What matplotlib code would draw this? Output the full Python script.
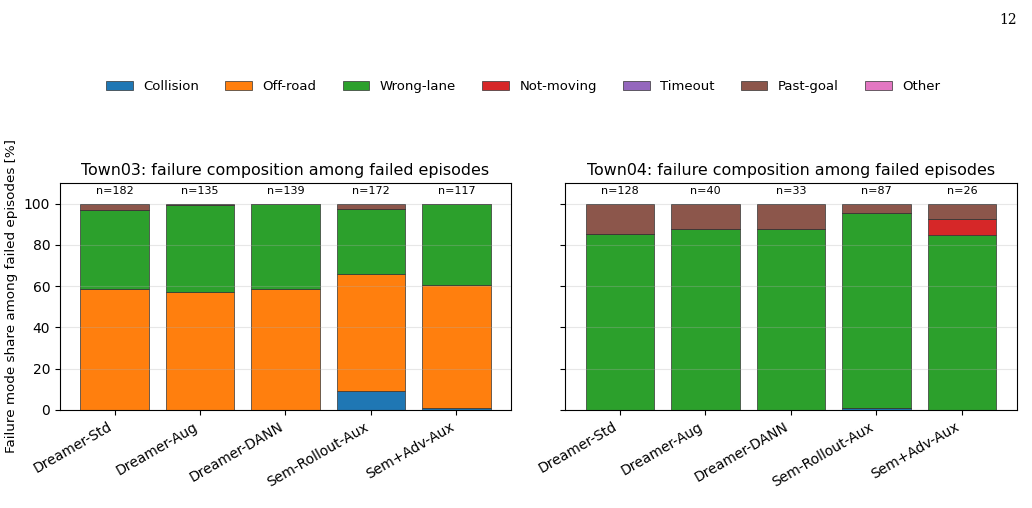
import numpy as np
import matplotlib.pyplot as plt

methods = ['Dreamer-Std', 'Dreamer-Aug', 'Dreamer-DANN', 'Sem-Rollout-Aux', 'Sem+Adv-Aux']
modes = ['Collision', 'Off-road', 'Wrong-lane', 'Not-moving', 'Timeout', 'Past-goal', 'Other']
colors = ['tab:blue', 'tab:orange', 'tab:green', 'tab:red', 'tab:purple', 'tab:brown', 'tab:pink']

# failure shares [%] per mode, one list per method
town03 = {
    'Collision':  [0.0, 0.0, 0.0, 9.3, 0.9],
    'Off-road':   [58.8, 57.0, 58.8, 56.7, 59.8],
    'Wrong-lane': [37.9, 42.2, 41.2, 31.4, 39.3],
    'Not-moving': [0.0, 0.0, 0.0, 0.0, 0.0],
    'Timeout':    [0.0, 0.0, 0.0, 0.0, 0.0],
    'Past-goal':  [3.3, 0.8, 0.0, 2.6, 0.0],
    'Other':      [0.0, 0.0, 0.0, 0.0, 0.0],
}
town03_n = [182, 135, 139, 172, 117]

town04 = {
    'Collision':  [0.0, 0.0, 0.0, 1.1, 0.0],
    'Off-road':   [0.0, 0.0, 0.0, 0.0, 0.0],
    'Wrong-lane': [85.2, 87.5, 87.9, 94.3, 84.6],
    'Not-moving': [0.0, 0.0, 0.0, 0.0, 7.7],
    'Timeout':    [0.0, 0.0, 0.0, 0.0, 0.0],
    'Past-goal':  [14.8, 12.5, 12.1, 4.6, 7.7],
    'Other':      [0.0, 0.0, 0.0, 0.0, 0.0],
}
town04_n = [128, 40, 33, 87, 26]

fig, axes = plt.subplots(1, 2, figsize=(10.32, 5.08), dpi=100, sharey=True)
fig.subplots_adjust(left=0.058, right=0.985, top=0.64, bottom=0.193, wspace=0.12)

# stacked bars per town
def draw(ax, data, counts, town):
    x = np.arange(len(methods))
    bottom = np.zeros(len(methods))
    for mode, c in zip(modes, colors):
        vals = np.array(data[mode])
        ax.bar(x, vals, 0.8, bottom=bottom, color=c, edgecolor='#333333', linewidth=0.5, label=mode)
        bottom += vals
    for xi, n in zip(x, counts):
        ax.text(xi, 106, f'n={n}', ha='center', va='center', fontsize=8)
    ax.set_xticks(x)
    ax.set_xticklabels(methods, rotation=30, ha='right', fontsize=10)
    ax.set_ylim(0, 110)
    ax.set_yticks([0, 20, 40, 60, 80, 100])
    ax.grid(axis='y', alpha=0.3)
    ax.set_title(f'{town}: failure composition among failed episodes', fontsize=11.4)

draw(axes[0], town03, town03_n, 'Town03')
draw(axes[1], town04, town04_n, 'Town04')
axes[0].set_ylabel('Failure mode share among failed episodes [%]', fontsize=9.7)

handles, labels = axes[0].get_legend_handles_labels()
fig.legend(handles, labels, loc='center', ncol=7, frameon=False, fontsize=9.5,
           bbox_to_anchor=(0.507, 0.83))

fig.text(0.985, 0.975, '12', ha='right', va='top', fontsize=10, family='DejaVu Serif')

plt.savefig('out.png', dpi=100)
